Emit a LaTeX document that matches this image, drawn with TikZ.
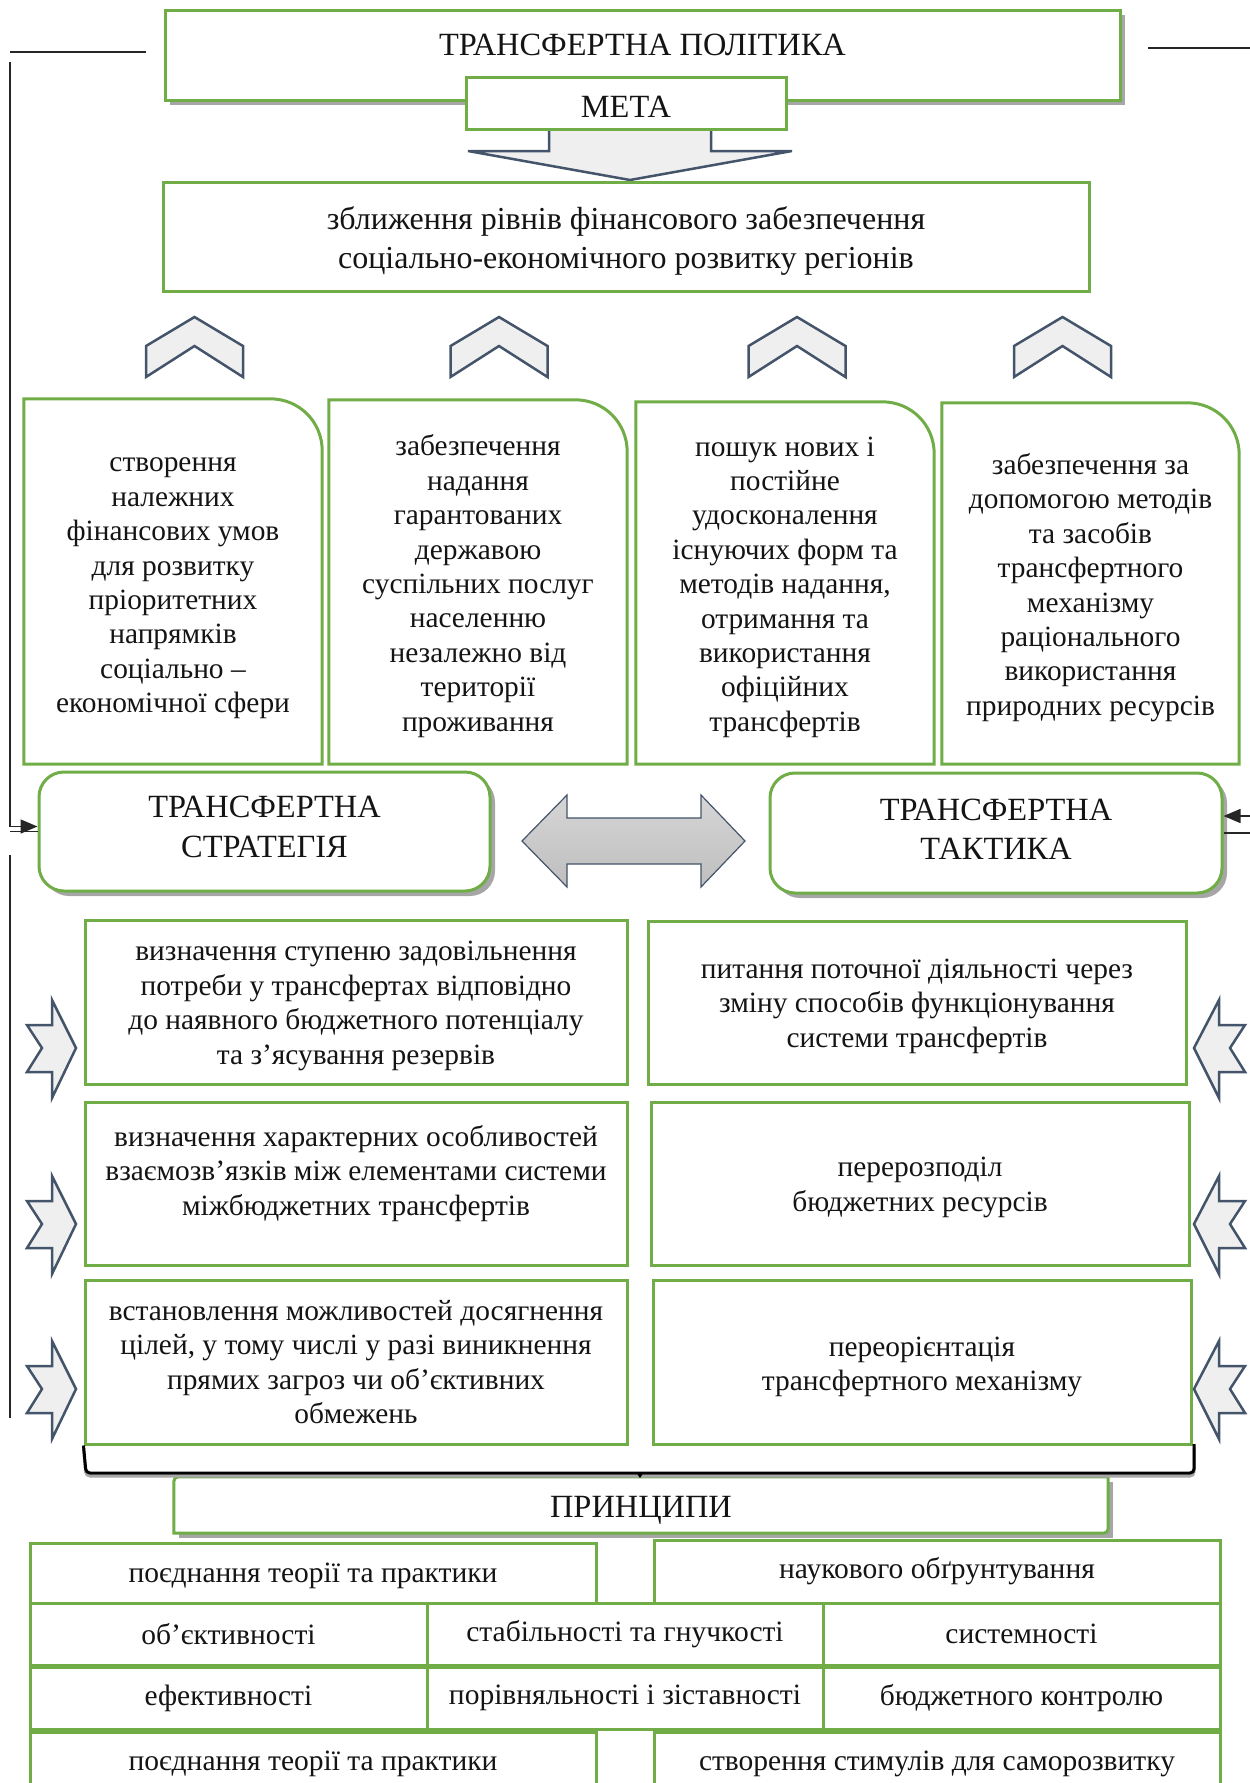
\documentclass[tikz,border=0pt]{standalone}
\usepackage{fontspec}
\setmainfont{Liberation Serif}
\usetikzlibrary{shadows,arrows.meta,backgrounds}
\definecolor{grn}{HTML}{70AD47}
\definecolor{slate}{HTML}{44546A}
\definecolor{lgray}{HTML}{EFEFEF}
\definecolor{shd}{HTML}{A6A6A6}
\definecolor{txt}{HTML}{141414}
\definecolor{dk}{HTML}{262626}
\definecolor{dA}{HTML}{D6D6D6}
\definecolor{dB}{HTML}{BEBEBE}
\begin{document}
\begin{tikzpicture}[x=1pt,y=-1pt,
 gline/.style={draw=grn,line width=3pt},
 gbox/.style={gline,fill=white,inner sep=0pt,align=center,text=txt},
 tbox/.style={inner sep=0pt,align=center,text=txt},
 hfont/.style={font=\fontsize{32.4}{39.5}\selectfont},
 bfont/.style={font=\fontsize{29.4}{34.4}\selectfont},
 tfont/.style={font=\fontsize{29.5}{34}\selectfont},
 shp/.style={draw=slate,line width=2.5pt,fill=lgray,line join=miter},
 conn/.style={draw=dk,line width=1.5pt},
 shad/.style={general shadow={fill=shd,shadow xshift=5pt,shadow yshift=-5pt}},
 tip/.style={-{Triangle[length=17pt,width=14pt]}}
]
\useasboundingbox (0,0) rectangle (1250,1783);
\clip (0,0) rectangle (1250,1783);

% top
\node[gbox,shad,minimum width=955pt,minimum height=90pt] (pol) at (642.5,55) {};
\node[tbox,hfont] (polt) at (642.5,45) {ТРАНСФЕРТНА ПОЛІТИКА};
\filldraw[shp] (549,129) -- (549,151) -- (468,151) -- (630,180) -- (792,151) -- (711,151) -- (711,129);
\node[gbox,minimum width=320pt,minimum height=52pt] (meta) at (626,103) {};
\node[tbox,hfont] (metat) at ([yshift=-3.5pt]meta.center) {МЕТА};
\node[gbox,minimum width=926pt,minimum height=109pt] (goal) at (626,236.5) {};
\node[tbox,font=\fontsize{32}{39}\selectfont] (goalt) at ([yshift=-4pt]goal.center)
  {зближення рівнів фінансового забезпечення\\соціально-економічного розвитку регіонів};

% chevrons
\foreach \cx in {194.5,499,797,1062.5}
  \filldraw[shp] (\cx-48.5,377) -- (\cx-48.5,346) -- (\cx,317) -- (\cx+48.5,346) -- (\cx+48.5,377) -- (\cx,346) -- cycle;

% four boxes
\node[tbox,minimum width=298pt,minimum height=365pt] (b1) at (173,581.5) {};
\node[tbox,minimum width=298pt,minimum height=364pt] (b2) at (478,582) {};
\node[tbox,minimum width=298pt,minimum height=362pt] (b3) at (785,583) {};
\node[tbox,minimum width=297pt,minimum height=361pt] (b4) at (1090.5,583.5) {};
\foreach \n in {b1,b2,b3,b4}
  \draw[gline,line join=miter] (\n.south west) -- (\n.north west) -- ([xshift=-52pt]\n.north east)
     .. controls ([xshift=-23pt]\n.north east) and ([yshift=-23pt]\n.north east) .. ([yshift=-52pt]\n.north east) -- (\n.south east) -- cycle;
\node[tbox,bfont] (b1t) at ([yshift=-7pt]b1.center)
  {створення\\належних\\фінансових умов\\для розвитку\\пріоритетних\\напрямків\\соціально –\\економічної сфери};
\node[tbox,bfont] (b2t) at ([yshift=-4pt]b2.center)
  {забезпечення\\надання\\гарантованих\\державою\\суспільних послуг\\населенню\\незалежно від\\території\\проживання};
\node[tbox,bfont] (b3t) at ([yshift=-4pt]b3.center)
  {пошук нових і\\постійне\\удосконалення\\існуючих форм та\\методів надання,\\отримання та\\використання\\офіційних\\трансфертів};
\node[tbox,bfont] (b4t) at ([yshift=-4pt]b4.center)
  {забезпечення за\\допомогою методів\\та засобів\\трансфертного\\механізму\\раціонального\\використання\\природних ресурсів};

% strategy / tactic
\node[gbox,shad,rounded corners=25pt,minimum width=451pt,minimum height=119pt] (strat) at (264.5,831.5) {};
\node[tbox,hfont] (stratt) at ([yshift=4.5pt]strat.center) {ТРАНСФЕРТНА\\СТРАТЕГІЯ};
\node[gbox,shad,rounded corners=25pt,minimum width=452pt,minimum height=120pt] (tact) at (996,833) {};
\node[tbox,hfont] (tactt) at ([yshift=3.5pt]tact.center) {ТРАНСФЕРТНА\\ТАКТИКА};
\path[draw=slate,line width=1.2pt,top color=dA,bottom color=dB]
  (522,841) -- (567,795) -- (567,818) -- (701,818) -- (701,795) -- (745,841)
  -- (701,887) -- (701,864) -- (567,864) -- (567,887) -- cycle;

% middle boxes
\node[gbox,minimum width=542pt,minimum height=164pt] (l1) at (356,1002) {};
\node[tbox,bfont] (l1t) at ([yshift=-4pt]l1.center)
  {визначення ступеню задовільнення\\потреби у трансфертах відповідно\\до наявного бюджетного потенціалу\\та з’ясування резервів};
\node[gbox,minimum width=542pt,minimum height=163pt] (l2) at (356,1183.5) {};
\node[tbox,bfont] (l2t) at ([yshift=10pt]l2.center)
  {визначення характерних особливостей\\взаємозв’язків між елементами системи\\міжбюджетних трансфертів};
\node[gbox,minimum width=542pt,minimum height=164pt] (l3) at (356,1362) {};
\node[tbox,bfont] (l3t) at (l3.center)
  {встановлення можливостей досягнення\\цілей, у тому числі у разі виникнення\\прямих загроз чи об’єктивних\\обмежень};
\node[gbox,minimum width=538pt,minimum height=163pt] (r1) at (917,1002.5) {};
\node[tbox,bfont] (r1t) at ([yshift=-3.5pt]r1.center)
  {питання поточної діяльності через\\зміну способів функціонування\\системи трансфертів};
\node[gbox,minimum width=538pt,minimum height=163pt] (r2) at (920,1183.5) {};
\node[tbox,bfont] (r2t) at ([yshift=-4pt]r2.center) {перерозподіл\\бюджетних ресурсів};
\node[gbox,minimum width=538pt,minimum height=164pt] (r3) at (922,1362) {};
\node[tbox,bfont] (r3t) at ([yshift=-5pt]r3.center) {переорієнтація\\трансфертного механізму};

% side arrows
\foreach \cy in {1048,1224,1389} {
  \filldraw[shp] (27,\cy-23) -- (52,\cy-23) -- (52,\cy-48) -- (76,\cy) -- (52,\cy+50) -- (52,\cy+24) -- (27,\cy+24) -- (42,\cy) -- cycle;
  \filldraw[shp] (1245,\cy-23) -- (1219,\cy-23) -- (1219,\cy-48) -- (1194,\cy) -- (1219,\cy+50) -- (1219,\cy+24) -- (1245,\cy+24) -- (1230,\cy) -- cycle;
}

% bracket
\draw[shd,line width=3pt,rounded corners=4pt] ([yshift=-3pt]l3.south west) -- (86,1476) -- (1194,1476) -- (1194,1447);
\draw[black,line width=3pt,rounded corners=4pt] (l3.south west) -- (86,1473) -- (1194,1473) -- (1194,1444);
\fill[black] (636,1472) -- (644,1472) -- (640,1478) -- cycle;

% principles
\node[tbox,minimum width=934pt,minimum height=56pt] (pr) at (641,1505) {};
\node[tbox,hfont] (prt) at ([yshift=-5pt]pr.center) {ПРИНЦИПИ};
\begin{scope}[on background layer]
  \fill[shd] ([shift={(5pt,-5pt)}]pr.north west) -- ([shift={(5pt,-5pt)}]pr.south west) -- ([shift={(5pt,-5pt)}]pr.south east)
     -- ([shift={(5pt,-5pt)}]pr.north east) -- cycle;
  \draw[gline,fill=white] ([yshift=-10pt]pr.north west) -- (pr.south west) -- ([xshift=-10pt]pr.south east)
     .. controls (pr.south east) .. ([yshift=10pt]pr.south east) -- (pr.north east) -- ([xshift=10pt]pr.north west)
     .. controls (pr.north west) .. cycle;
\end{scope}

\node[gbox,tfont,minimum width=566pt,minimum height=60pt] (t11) at (313,1573) {};
\node[tbox,tfont] (t11t) at ([yshift=-3pt]t11.center) {поєднання теорії та практики};
\node[gbox,tfont,minimum width=566pt,minimum height=63pt] (t12) at (937,1571.5) {наукового обґрунтування};
\node[gbox,tfont,minimum width=397pt,minimum height=62pt] (t21) at (228.5,1634) {об’єктивності};
\node[gbox,tfont,minimum width=396pt,minimum height=62pt] (t22) at (625,1634) {стабільності та гнучкості};
\node[gbox,tfont,minimum width=397pt,minimum height=62pt] (t23) at (1021.5,1634) {системності};
\node[gbox,tfont,minimum width=397pt,minimum height=62pt] (t31) at (228.5,1698) {ефективності};
\node[gbox,tfont,minimum width=396pt,minimum height=62pt] (t32) at (625,1698) {порівняльності і зіставності};
\node[gbox,tfont,minimum width=397pt,minimum height=62pt] (t33) at (1021.5,1698) {бюджетного контролю};
\node[gbox,tfont,minimum width=566pt,minimum height=63pt] (t41) at (313,1763.5) {поєднання теорії та практики};
\node[gbox,tfont,minimum width=566pt,minimum height=63pt] (t42) at (937,1763.5) {створення стимулів для саморозвитку};

% side connectors
\coordinate (la) at (146,52); \coordinate (lb) at (10,52);
\draw[conn] (la) -- (lb);
\coordinate (lv) at (10,62);
\draw[conn,tip] (lv) |- ([yshift=5pt]strat.west);
\coordinate (lw) at (10,831.5);
\draw[conn] (lw) -- (strat.west);
\coordinate (lx) at (10,855); \coordinate (ly) at (10,1418);
\draw[conn] (lx) -- (ly);
\coordinate (ra) at (1148,48); \coordinate (rb) at (1250,48);
\draw[conn] (ra) -- (rb);
\coordinate (rc) at (1250,816);
\draw[conn,tip] (rc) -- (tact.east |- rc);
\coordinate (rd) at (1250,833);
\draw[conn] (tact.east) -- (rd);
\end{tikzpicture}
\end{document}
